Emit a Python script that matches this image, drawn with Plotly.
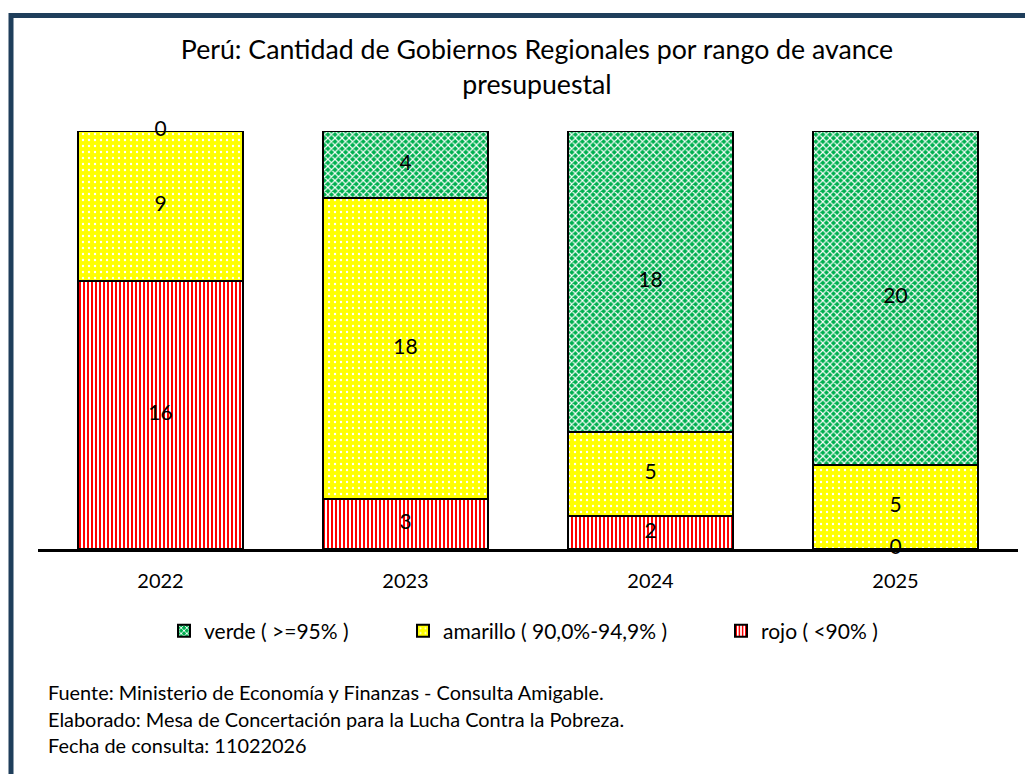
import plotly.graph_objects as go

years = ["2022", "2023", "2024", "2025"]
rojo = [16, 3, 2, 0]
amarillo = [9, 18, 5, 5]
verde = [0, 4, 18, 20]

names = ["rojo ( <90% )", "amarillo ( 90,0%-94,9% )", "verde ( >=95% )"]
series = [rojo, amarillo, verde]

FONT = "Lato"
W, H = 1033, 774
OFF = 8  # page body margin
# plot area in screen pixels: x 38..1017, y 131..549
SX0, SX1, SY0, SY1 = 38, 1018, 131, 549
ML, MT = SX0 - OFF, SY0 - OFF
PW, PH = SX1 - SX0, SY1 - SY0
MR, MB = W - ML - PW, H - MT - PH

def px_x(p):
    return (p - SX0) / PW

def px_y(p):
    return (SY1 - p) / PH

fig = go.Figure()

patterns = [
    dict(shape="|", bgcolor="white", fgcolor="#FF0000", size=4, solidity=0.5, fillmode="replace"),
    dict(shape=".", bgcolor="#FFFF00", fgcolor="white", size=6, solidity=0.12, fillmode="replace"),
    dict(shape="x", bgcolor="#00B050", fgcolor="white", size=5, solidity=0.4, fillmode="replace"),
]
legend_ids = ["legend3", "legend2", "legend"]

for name, vals, pat, lg in zip(names, series, patterns, legend_ids):
    fig.add_trace(go.Bar(
        x=years, y=vals, name=name,
        marker=dict(color=pat["bgcolor"], pattern=pat, line=dict(color="black", width=2)),
        legend=lg, hoverinfo="skip",
    ))

# value labels at segment centres (zeros included)
lx, ly, lt = [], [], []
for i, yr in enumerate(years):
    base = 0
    for vals in series:
        v = vals[i]
        lx.append(yr)
        ly.append(base + v / 2)
        lt.append(str(v))
        base += v
fig.add_trace(go.Scatter(
    x=lx, y=ly, text=lt, mode="text", showlegend=False, cliponaxis=False,
    textfont=dict(family=FONT, size=21, color="black"), hoverinfo="skip",
))

fig.update_layout(
    width=W, height=H,
    margin=dict(l=ML, r=MR, t=MT, b=MB),
    paper_bgcolor="white", plot_bgcolor="white",
    barmode="stack", bargap=0.33,
    font=dict(family=FONT, color="black"),
    title=dict(
        text="Perú: Cantidad de Gobiernos Regionales por rango de avance<br>presupuestal",
        x=px_x(537), xref="paper", xanchor="center",
        y=1 - (59 - OFF) / H, yanchor="middle",
        font=dict(family=FONT, size=26.7, color="black"),
    ),
    xaxis=dict(
        showline=True, linecolor="black", linewidth=3, showgrid=False,
        ticks="", tickfont=dict(family=FONT, size=20, color="black"),
        ticklabelstandoff=12,
    ),
    yaxis=dict(range=[0, 25], visible=False, showgrid=False, zeroline=False),
)

leg_common = dict(orientation="h", yanchor="middle", xanchor="left",
                  font=dict(family=FONT, size=21, color="black"),
                  bgcolor="rgba(0,0,0,0)", itemwidth=30)
fig.update_layout(
    legend=dict(x=px_x(164), y=px_y(631), **leg_common),
    legend2=dict(x=px_x(403), y=px_y(631), **leg_common),
    legend3=dict(x=px_x(721), y=px_y(631), **leg_common),
)

footer = [
    "Fuente: Ministerio de Economía y Finanzas - Consulta Amigable.",
    "Elaborado: Mesa de Concertación para la Lucha Contra la Pobreza.",
    "Fecha de consulta: 11022026",
]
for k, line in enumerate(footer):
    fig.add_annotation(
        text=line, xref="paper", yref="paper",
        x=px_x(46), y=px_y(692 + 26.5 * k), xanchor="left", yanchor="middle",
        showarrow=False, font=dict(family=FONT, size=19.9, color="black"),
    )

# dark frame (top and left edges)
frame = "#1F3E5B"
fig.add_shape(type="line", xref="paper", yref="paper",
              x0=px_x(9), x1=px_x(W + 5), y0=px_y(15.5), y1=px_y(15.5),
              line=dict(color=frame, width=5))
fig.add_shape(type="line", xref="paper", yref="paper",
              x0=px_x(11), x1=px_x(11), y0=px_y(13), y1=px_y(H + 5),
              line=dict(color=frame, width=5))

fig.write_html("out.html")
